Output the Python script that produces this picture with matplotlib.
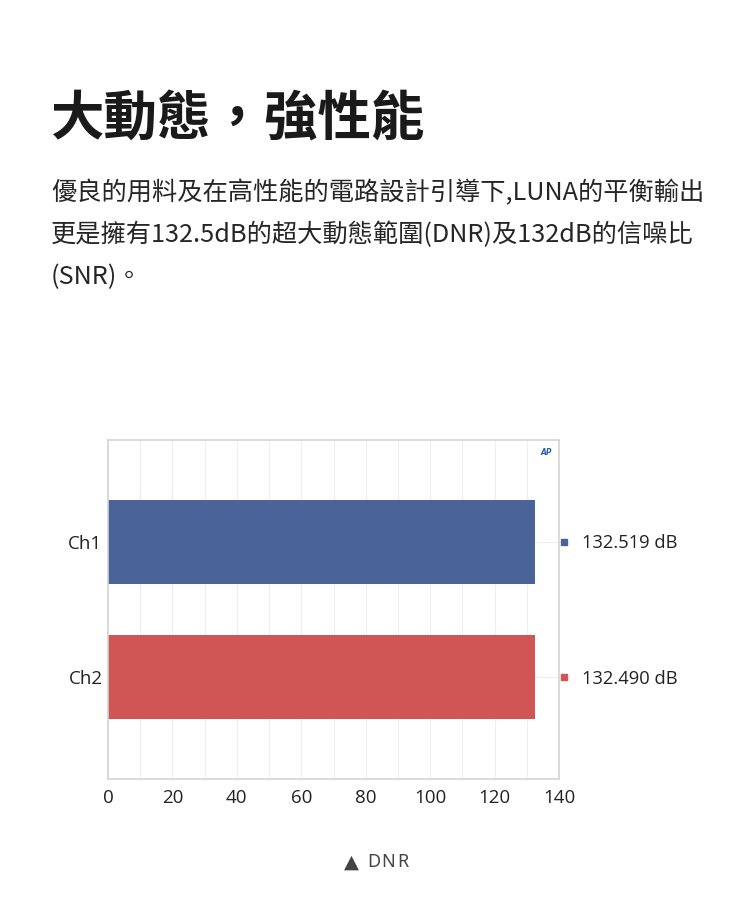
import matplotlib.pyplot as plt

channels = ["Ch1", "Ch2"]
dnr_values = [132.519, 132.490]
value_labels = ["132.519 dB", "132.490 dB"]
bar_colors = ["#4a6399", "#d05656"]
x_ticks = [0, 20, 40, 60, 80, 100, 120, 140]

cjk = ["Noto Sans CJK TC", "DejaVu Sans"]
W, H = 750, 907

fig = plt.figure(figsize=(W / 100, H / 100), dpi=100)
fig.patch.set_facecolor("white")

# heading and body text
fig.text(50 / W, 1 - 120 / H, "大動態，強性能", family=cjk, fontsize=38.5,
         fontweight="bold", color="#1a1a1a", va="center", ha="left")
body = [
    "優良的用料及在高性能的電路設計引導下,LUNA的平衡輸出",
    "更是擁有132.5dB的超大動態範圍(DNR)及132dB的信噪比",
    "(SNR)。",
]
for i, line in enumerate(body):
    fig.text(51 / W, 1 - (193 + i * 42) / H, line, family=cjk, fontsize=18.2,
             color="#262626", va="center", ha="left")

# chart
ax = fig.add_axes([108 / W, 1 - 779 / H, (559 - 108) / W, (779 - 440) / H])
y = list(range(len(channels)))
ax.barh(y, dnr_values, height=0.62, color=bar_colors, zorder=2)
ax.set_ylim(1.75, -0.75)
ax.set_xlim(0, 140)
ax.set_xticks(x_ticks)
ax.set_xticks(range(0, 141, 10), minor=True)
ax.set_yticks(y)
ax.set_yticklabels(channels)
ax.grid(True, which="both", axis="x", color="#eeeeee", lw=0.8, zorder=0)
ax.grid(True, axis="y", color="#eeeeee", lw=0.8, zorder=0)
ax.tick_params(axis="both", which="both", length=0, labelsize=13.5,
               colors="#222222", pad=7)
ax.tick_params(axis="y", pad=4)
for lab in ax.get_xticklabels() + ax.get_yticklabels():
    lab.set_family("Open Sans")
for s in ax.spines.values():
    s.set_color("#d4d4d4")
    s.set_linewidth(1.2)

# value labels to the right of the plot area
for yi, lbl, c in zip(y, value_labels, bar_colors):
    ax.plot([1.01], [yi], marker="s", ms=4, color=c, transform=ax.get_yaxis_transform(),
            clip_on=False)
    ax.text(1.05, yi + 0.01, lbl, transform=ax.get_yaxis_transform(), va="center",
            ha="left", fontsize=13.2, family="Open Sans", color="#222222")

ax.text(0.985, 0.975, "AP", transform=ax.transAxes, fontsize=5.5, fontweight="bold",
        fontstyle="italic", color="#2f5fa8", ha="right", va="top")

# footer caption: triangle plus letter-spaced DNR
fig.text(351 / W, 1 - 862 / H, "▲", family=["DejaVu Sans"], fontsize=14,
         color="#444444", ha="center", va="center")
for k, ch in enumerate("DNR"):
    fig.text((374 + k * 14.5) / W, 1 - 862 / H, ch, family="Noto Sans",
             fontsize=13, color="#444444", ha="center", va="center")

fig.savefig("out.png", dpi=100, facecolor="white")
